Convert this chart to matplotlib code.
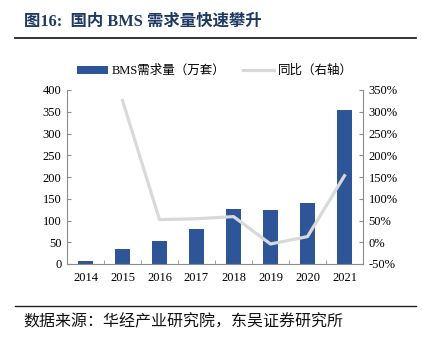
import matplotlib
matplotlib.use("Agg")
import matplotlib.pyplot as plt
from matplotlib.lines import Line2D
from matplotlib.patches import Patch
import numpy as np

plt.rcParams['font.family'] = ['Liberation Serif', 'Noto Sans CJK SC', 'DejaVu Sans']

years = ['2014', '2015', '2016', '2017', '2018', '2019', '2020', '2021']
demand = [8, 34, 53, 80, 127, 123, 140, 355]
growth_years = ['2015', '2016', '2017', '2018', '2019', '2020', '2021']
growth = [326, 52, 54, 59, -4, 13, 153]

left_ticks = [0, 50, 100, 150, 200, 250, 300, 350, 400]
right_ticks = [-50, 0, 50, 100, 150, 200, 250, 300, 350]

bar_color = '#2E5597'
line_color = '#D9D9D9'
spine_color = '#8C8C8C'
title_color = '#1F3864'

fig = plt.figure(figsize=(4.22, 3.39), dpi=100)
ax = fig.add_axes([67/422, 1-264/339, (363-67)/422, (264-90)/339])
x = np.arange(len(years))
ax.bar(x, demand, width=0.4, color=bar_color, zorder=2)
ax.set_xlim(-0.5, len(years)-0.5)
ax.set_ylim(0, 400)
ax.set_yticks(left_ticks)
ax.set_xticks(x)
ax.set_xticklabels(years)
ax.set_xticks(np.arange(len(years)-1)+0.5, minor=True)
ax.tick_params(axis='x', which='major', length=0, labelsize=9, pad=6)
ax.tick_params(axis='x', which='minor', length=3, direction='in', color=spine_color)
ax.tick_params(axis='y', length=3, direction='in', color=spine_color, labelsize=9, pad=4)
for s in ['top', 'right']:
    ax.spines[s].set_visible(False)
for s in ['left', 'bottom']:
    ax.spines[s].set_color(spine_color)
    ax.spines[s].set_linewidth(0.8)

ax2 = ax.twinx()
gx = [years.index(y) for y in growth_years]
ax2.plot(gx, growth, color=line_color, linewidth=2.3, zorder=3)
ax2.set_ylim(-50, 350)
ax2.set_yticks(right_ticks)
ax2.set_yticklabels([f'{t}%' for t in right_ticks])
ax2.tick_params(axis='y', length=3, direction='in', color=spine_color, labelsize=9, pad=4)
for s in ['top', 'left', 'bottom']:
    ax2.spines[s].set_visible(False)
ax2.spines['right'].set_color(spine_color)
ax2.spines['right'].set_linewidth(0.8)

handles = [Patch(facecolor=bar_color, edgecolor='none'),
           Line2D([0], [0], color=line_color, linewidth=2.3)]
fig.legend(handles, ['BMS需求量（万套）', '同比（右轴）'], loc='center',
           bbox_to_anchor=(215/422, 1-71/339), ncol=2, frameon=False,
           fontsize=9, handlelength=2.5, handleheight=0.6, columnspacing=1.4,
           handletextpad=0.3)

fig.text(24/422, 1-22/339, '图16:  国内 BMS 需求量快速攀升', fontsize=11.8,
         fontweight='bold', color=title_color, va='center', ha='left')
fig.add_artist(Line2D([15/422, 416/422], [1-38/339, 1-38/339], color='#222222', linewidth=1.3))
fig.add_artist(Line2D([15/422, 416/422], [1-306/339, 1-306/339], color='#222222', linewidth=1.0))
fig.text(23/422, 1-322/339, '数据来源：华经产业研究院，东吴证券研究所', fontsize=11.5,
         color='#111111', va='center', ha='left')

fig.savefig('out.png', dpi=100)
